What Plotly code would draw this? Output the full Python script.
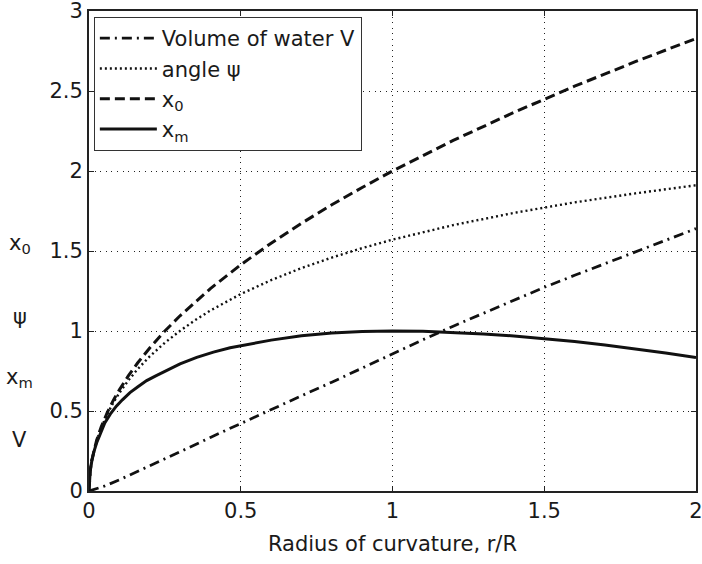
import plotly.graph_objects as go

# r/R samples and curve values
r_V = [0, 0.05, 0.1, 0.2, 0.3, 0.4, 0.5, 0.6, 0.7, 0.8, 0.9, 1.0,
       1.1, 1.2, 1.3, 1.4, 1.5, 1.6, 1.7, 1.8, 1.9, 2.0]
V = [0, 0.03, 0.07, 0.155, 0.245, 0.335, 0.423, 0.51, 0.595, 0.68, 0.77, 0.86,
     0.945, 1.03, 1.11, 1.195, 1.273, 1.348, 1.42, 1.495, 1.567, 1.64]

r_psi = [0, 0.001, 0.004, 0.009, 0.016, 0.025, 0.04, 0.06, 0.08, 0.1, 0.13,
         0.16, 0.2, 0.25, 0.3, 0.35, 0.4, 0.5, 0.6, 0.7, 0.8, 0.9, 1.0, 1.2,
         1.4, 1.6, 1.8, 2.0]
psi = [0, 0.063, 0.126, 0.19, 0.252, 0.314, 0.395, 0.481, 0.551, 0.613, 0.692,
       0.761, 0.841, 0.927, 1.001, 1.068, 1.128, 1.231, 1.318, 1.393, 1.459,
       1.518, 1.571, 1.662, 1.738, 1.804, 1.86, 1.911]

r_x0 = [0, 0.001, 0.004, 0.009, 0.016, 0.025, 0.04, 0.06, 0.08, 0.1, 0.13,
        0.16, 0.2, 0.25, 0.3, 0.35, 0.4, 0.5, 0.6, 0.7, 0.8, 0.9, 1.0, 1.2,
        1.4, 1.6, 1.8, 2.0]
x0 = [0, 0.063, 0.126, 0.19, 0.253, 0.316, 0.4, 0.49, 0.566, 0.632, 0.721,
      0.8, 0.894, 1.0, 1.095, 1.183, 1.265, 1.414, 1.549, 1.673, 1.789,
      1.897, 2.0, 2.191, 2.366, 2.53, 2.683, 2.828]

r_xm = [0, 0.001, 0.004, 0.009, 0.016, 0.025, 0.037, 0.052, 0.07, 0.09, 0.11,
        0.135, 0.16, 0.19, 0.22, 0.245, 0.27, 0.3, 0.355, 0.41, 0.465, 0.53,
        0.6, 0.7, 0.8, 0.9, 1.0, 1.1, 1.2, 1.3, 1.4, 1.5, 1.6, 1.7, 1.8, 1.9, 2.0]
xm = [0, 0.063, 0.125, 0.185, 0.245, 0.3, 0.36, 0.425, 0.48, 0.53, 0.57,
      0.615, 0.65, 0.69, 0.72, 0.745, 0.77, 0.795, 0.835, 0.868, 0.895, 0.92,
      0.943, 0.97, 0.988, 0.997, 1.0, 0.998, 0.992, 0.982, 0.969, 0.954, 0.935,
      0.912, 0.888, 0.862, 0.835]

x_ticks = [0, 0.5, 1, 1.5, 2]
x_ticktext = ["0", "0.5", "1", "1.5", "2"]
y_ticks = [0, 0.5, 1, 1.5, 2, 2.5, 3]
y_ticktext = ["0", "0.5", "1", "1.5", "2", "2.5", "3"]

FONT = "DejaVu Sans"
INK = "#1a1a1a"

series = [
    ("Volume of water V", r_V, V, "10px,5px,2px,5px", 2.8),
    ("angle \u03c8", r_psi, psi, "2px,3px", 2.4),
    ("x<sub>0</sub>", r_x0, x0, "10px,5px", 3),
    ("x<sub>m</sub>", r_xm, xm, "solid", 3),
]

fig = go.Figure()
for i, (name, xs, ys, dash, w) in enumerate(series):
    fig.add_trace(go.Scatter(
        x=xs, y=ys, mode="lines", name=name, legendgroup=f"g{i}",
        line=dict(color="#111111", width=w, dash=dash),
    ))

axis_common = dict(
    showline=True, linecolor="#222222", linewidth=1.8, mirror="ticks",
    ticks="inside", ticklen=5, tickwidth=1.2, tickcolor="#222222",
    showgrid=True, gridcolor="#222222", gridwidth=1, griddash="1px,4.6px",
    zeroline=False, ticklabeloverflow="allow", automargin=False,
    tickfont=dict(family=FONT, size=21, color=INK),
)

fig.update_xaxes(range=[0, 2], tickvals=x_ticks, ticktext=x_ticktext,
                 title=dict(text="Radius of curvature, r/R",
                            font=dict(family=FONT, size=21, color=INK), standoff=14),
                 **axis_common)
fig.update_yaxes(range=[0, 3], tickvals=y_ticks, ticktext=y_ticktext,
                 **axis_common)

# stacked quantity labels beside the y axis
for txt, yp in [("x<sub>0</sub>", 0.515), ("\u03c8", 0.3625),
                ("x<sub>m</sub>", 0.2354), ("V", 0.1063)]:
    fig.add_annotation(text=txt, xref="paper", yref="paper", x=-0.1137, y=yp,
                       xanchor="center", yanchor="middle", showarrow=False,
                       font=dict(family=FONT, size=21, color=INK))

fig.update_layout(
    width=702, height=564, autosize=False,
    margin=dict(l=89, r=6, t=11, b=73, autoexpand=False),
    paper_bgcolor="white", plot_bgcolor="white",
    font=dict(family=FONT, size=21, color=INK),
    showlegend=True,
    legend=dict(x=0.008, y=0.9875, xanchor="left", yanchor="top",
                bgcolor="white", bordercolor="#333333", borderwidth=1,
                tracegroupgap=0, itemwidth=57,
                font=dict(family=FONT, size=21, color=INK)),
)

fig.write_html("out.html")
